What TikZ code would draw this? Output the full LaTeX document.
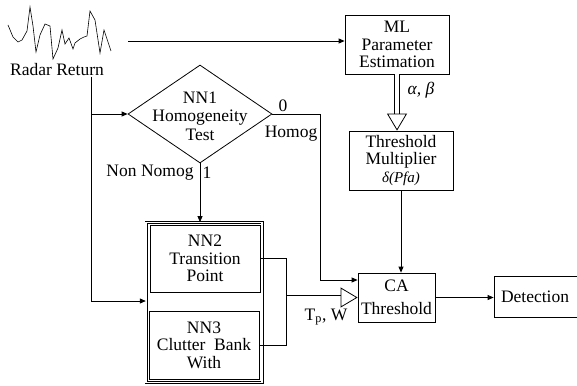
\documentclass[tikz,border=0pt]{standalone}
\usepackage{fontspec}
\setmainfont{Liberation Serif}
\usetikzlibrary{arrows.meta, shapes.geometric}

\begin{document}
\begin{tikzpicture}[
  x=1pt, y=-1pt, line width=0.8pt,
  font=\fontsize{17.5}{17.5}\selectfont,
  box/.style={draw, inner sep=0pt, align=center},
  dia/.style={draw, diamond, inner sep=0pt, minimum width=144pt, minimum height=98pt},
  lbl/.style={inner sep=0pt},
  arr/.style={-{Triangle[length=6pt, width=5pt]}},
  fat/.style={double, double distance=4pt, -{Triangle[open, length=17pt, width=20pt]}}
]
\useasboundingbox (0,0) rectangle (577,385);
% radar signal
\draw[line width=0.6pt] plot coordinates {(8,25) (13,37) (18,42) (22,40) (27,31) (30,7) (33,26) (36,52)
  (40,35) (45,24) (50,26) (53,59) (58,48) (62,30) (65,44) (69,38) (73,49) (75,43) (80,39) (84,37)
  (87,36) (90,11) (95,20) (100,53) (104,30) (111,51)};
\node[lbl] (rr) at (57,70) {Radar Return};
\coordinate (sig) at (128,41);
\coordinate (trunk) at (91,301);
% blocks
\node[box, minimum width=104pt, minimum height=59pt] (ml) at (397,44.5) {ML\\Parameter\\Estimation};
\node[box, minimum width=104pt, minimum height=59pt] (thr) at (401,160.5)
  {Threshold\\Multiplier\\{\fontsize{15}{15}\selectfont\itshape δ(Pfa)}};
\node[dia] (nn1) at (200,114) {};
\node[lbl, align=center, font=\fontsize{17.5}{18.5}\selectfont] (nn1txt) at (200,116) {NN1\\Homogeneity\\Test};
\node[draw, double, double distance=1.5pt, minimum width=116pt, minimum height=160pt] (bank) at (204.2,302.5) {};
\node[box, minimum width=110pt, minimum height=67pt] (nn2) at (205,258.6) {NN2\\Transition\\Point};
\node[box, minimum width=110pt, minimum height=68pt] (nn3) at (204,345.2) {NN3\\Clutter\ \ Bank\\With};
\node[box, minimum width=77pt, minimum height=49pt] (ca) at (396.5,297.5) {CA\\[5pt]Threshold};
\node[draw, inner xsep=7pt, inner ysep=0pt, text width=75pt, align=left, minimum height=41pt] (det) at (538.5,296.5) {Detection};
% labels
\node[lbl] (lab0) at (283,106) {0};
\node[lbl] (labh) at (291,134) {Homog};
\node[lbl] (labn) at (150,173) {Non Nomog};
\node[lbl] (lab1) at (207,173) {1};
\node[lbl] (labab) at (421,90) {\itshape α, β};
\node[lbl] (labtw) at (326,317) {T\textsubscript{p}, W};
% connectors
\coordinate (hg) at (320,280);
\path (ca.west) ++(-71,0) coordinate (mrg);
\draw[arr] (sig) -- (sig -| ml.west);
\draw[arr] (trunk |- rr.south) -- (trunk) -- (trunk -| bank.west);
\draw[arr] (trunk |- nn1) -- (nn1.west);
\draw[arr] (nn1.south) -- (nn1.south |- bank.north);
\draw[arr] (nn1.east) -| (hg) -- (hg -| ca.west);
\draw[arr] (thr.south) -- (thr.south |- ca.north);
\draw[arr] (ca.east) -- (ca.east -| det.west);
\draw (nn2.east) -| (mrg);
\draw (nn3.east) -| (mrg);
\draw[fat] (ml.south) -- (ml.south |- thr.north);
\draw[fat] (mrg) -- (ca.west);
\end{tikzpicture}
\end{document}
